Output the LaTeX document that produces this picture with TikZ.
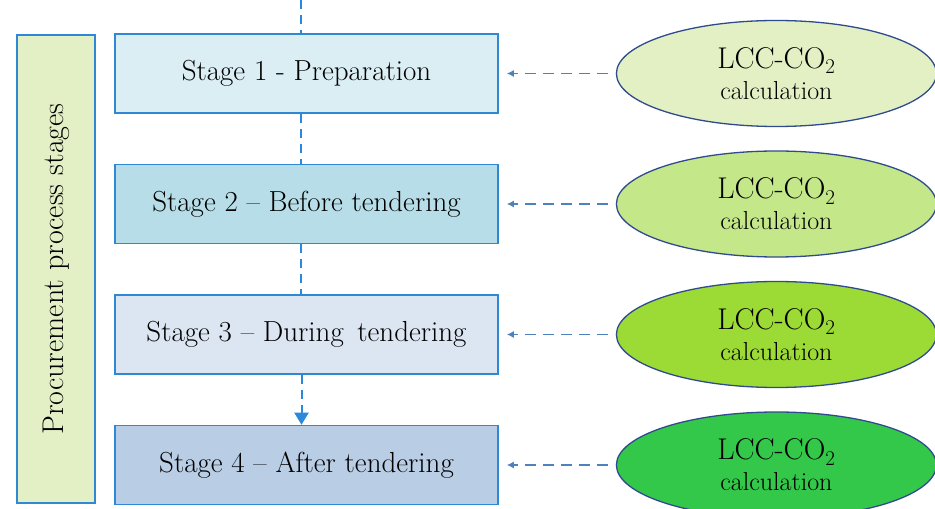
\documentclass[tikz,border=0pt]{standalone}
\usetikzlibrary{shapes.geometric,positioning,arrows.meta}
\definecolor{boxline}{HTML}{2E88D4}
\definecolor{ellline}{HTML}{2F4B8E}
\definecolor{feedline}{HTML}{4F81BD}
\definecolor{flowline}{HTML}{2B88DD}
\definecolor{sidefill}{HTML}{E3F0C6}
\definecolor{stageA}{HTML}{DAEEF3}
\definecolor{stageB}{HTML}{B7DEE8}
\definecolor{stageC}{HTML}{DCE6F2}
\definecolor{stageD}{HTML}{B9CDE5}
\definecolor{calcA}{HTML}{E2F0C4}
\definecolor{calcB}{HTML}{C4E78A}
\definecolor{calcC}{HTML}{9CDA36}
\definecolor{calcD}{HTML}{33C84A}
\begin{document}
\begin{tikzpicture}[
  x=1pt,y=1pt,
  node distance=50pt and 117pt,
  stagebox/.style={draw=boxline,line width=1.5pt,minimum width=383pt,minimum height=79pt,
    inner sep=0pt,font=\fontsize{29}{34}\selectfont},
  calcnode/.style={draw=ellline,ellipse,line width=1.3pt,minimum width=320pt,minimum height=106pt,
    inner sep=0pt,align=center,font=\fontsize{26}{31}\selectfont},
  feedarrow/.style={draw=feedline,line width=1.4pt,dash pattern=on 11pt off 7pt,
    -{Latex[length=7pt,width=7pt]},shorten <=8pt,shorten >=8pt},
  stageflow/.style={color=flowline,line width=2pt,dash pattern=on 9pt off 6pt}
]
\useasboundingbox (0,0) rectangle (935,509);

\node[stagebox,fill=stageA] (s1) at (306.5,435.5) {Stage 1 - Preparation};
\node[stagebox,fill=stageB,below=of s1] (s2) {Stage 2 -- Before tendering};
\node[stagebox,fill=stageC,below=of s2] (s3) {Stage 3 -- During\, tendering};
\node[stagebox,fill=stageD,below=of s3] (s4) {Stage 4 -- After tendering};

\node[draw=boxline,fill=sidefill,line width=1.5pt,rotate=90,minimum width=468pt,minimum height=78pt,
  inner sep=0pt,font=\fontsize{30}{34}\selectfont] (side) at (56,240) {Procurement process stages};

% LCC-CO2 ellipses
\newcommand{\lcctext}{{\fontsize{30}{31}\selectfont LCC-CO\textsubscript{2}}\\ calculation}
\node[calcnode,fill=calcA,right=of s1] (c1) {\lcctext};
\node[calcnode,fill=calcB,right=of s2] (c2) {\lcctext};
\node[calcnode,fill=calcC,right=of s3] (c3) {\lcctext};
\node[calcnode,fill=calcD,right=of s4] (c4) {\lcctext};

\coordinate (top) at ([xshift=-6pt]s1.north |- 0,509);
\draw[stageflow] (top) -- ([xshift=-6pt]s1.north)
  ([xshift=-6pt]s1.south) -- ([xshift=-6pt]s2.north)
  ([xshift=-6pt]s2.south) -- ([xshift=-6pt]s3.north);
\draw[stageflow,-{Triangle[length=12pt,width=14pt]}] ([xshift=-5pt]s3.south) -- ([xshift=-5pt]s4.north);

\foreach \i in {1,...,4}
  \draw[feedarrow] (c\i.west) -- (s\i.east);

\end{tikzpicture}
\end{document}
